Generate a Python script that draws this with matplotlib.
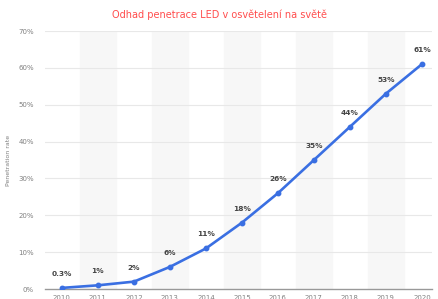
import matplotlib.pyplot as plt
from matplotlib.ticker import FuncFormatter

years = [2010, 2011, 2012, 2013, 2014, 2015, 2016, 2017, 2018, 2019, 2020]
penetration = [0.3, 1, 2, 6, 11, 18, 26, 35, 44, 53, 61]
point_labels = ["0.3%", "1%", "2%", "6%", "11%", "18%", "26%", "35%", "44%", "53%", "61%"]
y_ticks = [0, 10, 20, 30, 40, 50, 60, 70]

fig = plt.figure(figsize=(4.38, 2.99), dpi=100)
ax = fig.add_axes([45 / 438, 10 / 299, 387 / 438, 258 / 299])

# shaded bands behind every other year
for y in years[1::2]:
    ax.axvspan(y - 0.5, y + 0.5, color="#f7f7f7", zorder=0)

for t in y_ticks[1:]:
    ax.axhline(t, color="#e8e8e8", lw=0.8, zorder=1)

ax.plot(years, penetration, color="#3a6fe2", lw=1.9, marker="o", ms=3.2, zorder=3)

for x, v, lab in zip(years, penetration, point_labels):
    ax.annotate(lab, (x, v), xytext=(0, 8), textcoords="offset points",
                ha="center", va="bottom", fontsize=5.3, color="#444444",
                fontweight="semibold")

ax.set_xlim(2009.53, 2020.28)
ax.set_ylim(0, 70)
ax.set_xticks(years)
ax.set_yticks(y_ticks)
ax.yaxis.set_major_formatter(FuncFormatter(lambda v, p: f"{int(v)}%"))
ax.tick_params(axis="both", length=0, labelsize=5, colors="#808080")
ax.tick_params(axis="y", pad=8)
ax.tick_params(axis="x", pad=4)
for s in ["top", "right", "left"]:
    ax.spines[s].set_visible(False)
ax.spines["bottom"].set_color("#999999")
ax.spines["bottom"].set_linewidth(1)

ax.set_ylabel("Penetration rate", fontsize=4.5, color="#808080", labelpad=5)

fig.text(0.5, 1 - 15 / 299, "Odhad penetrace LED v osvětelení na světě",
         ha="center", va="center", fontsize=7, color="#ff4d4d")

fig.savefig("out.png", dpi=100)
